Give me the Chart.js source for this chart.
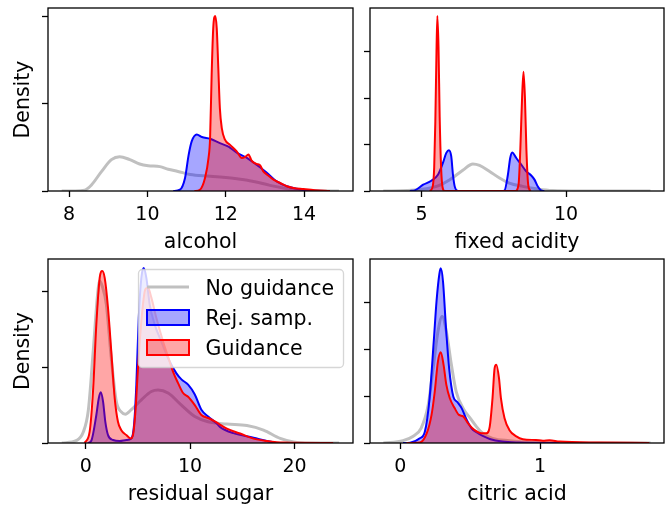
<!DOCTYPE html>
<html>
<head>
<meta charset="utf-8">
<script src="https://cdn.jsdelivr.net/npm/chart.js@4"></script>
<style>
  html, body { margin: 0; padding: 0; background: #fff; }
  #wrap { position: relative; width: 665px; height: 508px; }
  canvas { position: absolute; left: 0; top: 0; }
</style>
</head>
<body>
<div id="wrap">
  <canvas id="alcohol" width="665" height="508"></canvas>
  <canvas id="fixed" width="665" height="508"></canvas>
  <canvas id="sugar" width="665" height="508"></canvas>
  <canvas id="citric" width="665" height="508"></canvas>
</div>
<script>
// series labels
const seriesLabels = ["No guidance", "Rej. samp.", "Guidance"];

// alcohol: [value, density]
const alcoholNoGuidance = [[7.81,0],[8.15,0],[8.40,0.01],[8.57,0.07],[8.82,0.22],[9.08,0.36],[9.29,0.395],[9.55,0.36],[9.80,0.31],[10.02,0.29],[10.32,0.28],[10.53,0.25],[10.78,0.225],[11.09,0.19],[11.60,0.17],[12.28,0.14],[12.71,0.11],[13.13,0.065],[13.47,0.035],[13.81,0.01],[14.3,0.002],[14.89,0]];
const alcoholRejSamp = [[10.66,0],[10.83,0.015],[10.96,0.15],[11.05,0.41],[11.13,0.57],[11.26,0.65],[11.39,0.62],[11.60,0.60],[11.85,0.55],[12.07,0.51],[12.28,0.44],[12.54,0.38],[12.79,0.30],[13.05,0.21],[13.30,0.11],[13.56,0.055],[13.81,0.025],[14.15,0.005],[14.66,0]];
const alcoholGuidance = [[11.20,0],[11.34,0.015],[11.47,0.15],[11.56,0.38],[11.60,0.61],[11.64,1.34],[11.68,1.87],[11.73,2.01],[11.77,1.87],[11.81,1.41],[11.85,0.95],[11.90,0.72],[11.98,0.59],[12.11,0.53],[12.28,0.455],[12.41,0.38],[12.49,0.39],[12.58,0.42],[12.66,0.35],[12.79,0.31],[12.88,0.295],[12.96,0.225],[13.05,0.19],[13.22,0.13],[13.39,0.092],[13.56,0.054],[13.73,0.035],[13.98,0.023],[14.28,0.01],[14.66,0]];

// fixed acidity
const fixedNoGuidance = [[3.68,0],[4.50,0.01],[4.94,0.03],[5.52,0.10],[5.98,0.244],[6.43,0.446],[6.78,0.58],[7.01,0.55],[7.36,0.42],[7.70,0.28],[8.04,0.17],[8.50,0.10],[8.97,0.05],[9.53,0.01],[10.5,0],[12.92,0]];
const fixedRejSamp = [[4.60,0],[4.77,0.015],[5.06,0.135],[5.34,0.22],[5.57,0.35],[5.74,0.60],[5.86,0.82],[5.95,0.88],[6.03,0.75],[6.09,0.35],[6.15,0.10],[6.23,0.01],[6.32,0],[7.77,0],[7.87,0.01],[7.99,0.35],[8.07,0.71],[8.14,0.83],[8.28,0.71],[8.45,0.57],[8.62,0.425],[8.79,0.34],[8.91,0.245],[9.02,0.10],[9.14,0.01],[9.25,0]];
const fixedGuidance = [[5.29,0],[5.39,0.1],[5.44,0.5],[5.48,1.5],[5.52,3.0],[5.55,3.77],[5.59,3.1],[5.63,1.6],[5.68,0.5],[5.73,0.08],[5.80,0],[8.25,0],[8.36,0.15],[8.42,0.9],[8.48,2.0],[8.53,2.57],[8.58,2.0],[8.63,0.9],[8.69,0.15],[8.77,0]];

// residual sugar
const sugarNoGuidance = [[-2.28,0],[-0.86,0.035],[-0.23,0.145],[0.25,0.43],[0.73,1.23],[1.15,1.98],[1.34,2.14],[1.56,2.08],[1.98,1.83],[2.45,1.12],[2.93,0.55],[3.41,0.41],[3.80,0.38],[4.37,0.44],[5.33,0.57],[6.29,0.68],[6.93,0.70],[7.89,0.66],[9.17,0.50],[10.45,0.35],[11.72,0.28],[13.52,0.25],[15.44,0.23],[17.03,0.17],[18.63,0.06],[19.91,0.014],[21.5,0],[24.27,0]];
const sugarRejSamp = [[0.22,0],[0.54,0.03],[1.02,0.37],[1.25,0.59],[1.44,0.67],[1.66,0.55],[1.88,0.28],[2.14,0.105],[2.62,0.04],[3.26,0.027],[3.89,0.04],[4.37,0.06],[4.63,0.24],[4.85,0.77],[5.08,1.65],[5.33,2.18],[5.56,2.31],[5.81,2.18],[6.14,1.82],[6.62,1.56],[7.25,1.34],[7.89,1.12],[8.69,0.92],[9.17,0.84],[9.81,0.77],[10.45,0.64],[11.08,0.44],[11.73,0.35],[12.52,0.26],[12.88,0.21],[14.15,0.13],[16.07,0.07],[17.35,0.027],[18.3,0]];
const sugarGuidance = [[-0.10,0],[0.38,0.15],[0.70,0.68],[1.02,1.57],[1.34,2.18],[1.59,2.27],[1.82,2.18],[2.14,1.78],[2.45,1.21],[2.78,0.59],[3.09,0.28],[3.41,0.17],[3.89,0.105],[4.31,0.06],[4.53,0.105],[4.76,0.41],[5.01,0.99],[5.33,1.61],[5.71,2.03],[5.97,2.05],[6.29,1.92],[6.77,1.65],[7.41,1.34],[7.89,1.14],[8.37,0.94],[8.85,0.79],[9.33,0.66],[9.81,0.61],[10.45,0.50],[11.08,0.37],[11.73,0.33],[12.37,0.285],[13.52,0.19],[14.79,0.125],[16.07,0.058],[17.35,0.027],[18.95,0.005],[23.7,0]];

// citric acid
const citricNoGuidance = [[-0.12,0],[0.02,0.05],[0.09,0.14],[0.15,0.32],[0.20,0.81],[0.235,1.59],[0.27,2.38],[0.30,2.70],[0.33,2.38],[0.366,1.67],[0.40,1.10],[0.45,0.74],[0.50,0.53],[0.545,0.35],[0.59,0.21],[0.66,0.10],[0.78,0.05],[0.97,0.01],[1.42,0],[1.79,0]];
const citricRejSamp = [[0.02,0],[0.07,0.005],[0.14,0.10],[0.176,0.24],[0.21,0.96],[0.24,2.18],[0.26,3.04],[0.28,3.61],[0.29,3.73],[0.306,3.45],[0.326,2.52],[0.35,1.59],[0.38,0.99],[0.41,0.87],[0.44,0.74],[0.47,0.53],[0.51,0.31],[0.545,0.23],[0.59,0.15],[0.64,0.085],[0.73,0.03],[0.85,0.01],[1.14,0]];
const citricGuidance = [[0.045,0],[0.14,0.01],[0.19,0.21],[0.224,0.60],[0.247,1.10],[0.27,1.75],[0.29,1.94],[0.31,1.67],[0.33,1.24],[0.354,0.96],[0.39,0.74],[0.42,0.60],[0.45,0.57],[0.485,0.42],[0.53,0.28],[0.58,0.21],[0.616,0.21],[0.64,0.35],[0.66,0.96],[0.675,1.60],[0.687,1.67],[0.706,1.39],[0.72,0.96],[0.746,0.53],[0.78,0.28],[0.83,0.14],[0.877,0.08],[0.97,0.064],[1.02,0.05],[1.067,0.06],[1.14,0.03],[1.42,0.01],[1.78,0]];

// tick values
const alcoholTicks = [8, 10, 12, 14];
const fixedTicks = [5, 10];
const sugarTicks = [0, 10, 20];
const citricTicks = [0, 1];
const alcoholDensityTicks = [0, 1, 2];
const fixedDensityTicks = [0, 1, 2, 3];
const sugarDensityTicks = [0, 1, 2];
const citricDensityTicks = [0, 1, 2, 3];

Chart.defaults.font.family = "'DejaVu Sans', sans-serif";
Chart.defaults.color = "#000";

const seriesStyle = [
  { borderColor: "#c0c0c0", borderWidth: 3, fill: false, order: 3 },
  { borderColor: "#0000ff", backgroundColor: "rgba(0,0,255,0.35)", borderWidth: 2, fill: "origin", order: 2 },
  { borderColor: "#ff0000", backgroundColor: "rgba(255,0,0,0.35)", borderWidth: 2, fill: "origin", order: 1 },
];

// axes frame drawn on all four sides
const spines = {
  id: "spines",
  afterDraw(chart) {
    const { ctx, chartArea: a } = chart;
    ctx.save();
    ctx.strokeStyle = "#000";
    ctx.lineWidth = 1.3;
    ctx.strokeRect(a.left, a.top, a.right - a.left, a.bottom - a.top);
    ctx.restore();
  },
};

// legend placed inside the plot (upper right)
const innerLegend = {
  id: "innerLegend",
  afterDatasetsDraw(chart) {
    const { ctx, chartArea: a } = chart;
    const w = 205, h = 98;
    const x = a.right - 9.5 - w, y = a.top + 10.5;
    ctx.save();
    ctx.beginPath();
    ctx.roundRect(x, y, w, h, 4);
    ctx.fillStyle = "rgba(255,255,255,0.8)";
    ctx.fill();
    ctx.strokeStyle = "rgba(204,204,204,0.8)";
    ctx.lineWidth = 1.3;
    ctx.stroke();
    ctx.font = "20.5px 'DejaVu Sans', sans-serif";
    ctx.textBaseline = "alphabetic";
    chart.data.datasets.forEach((ds, i) => {
      const base = y + 25.5 + i * 30;
      const hx = x + 8.5;
      if (ds.fill) {
        ctx.fillStyle = ds.backgroundColor;
        ctx.fillRect(hx, base - 15, 42, 15);
        ctx.strokeStyle = ds.borderColor;
        ctx.lineWidth = ds.borderWidth;
        ctx.strokeRect(hx, base - 15, 42, 15);
      } else {
        ctx.strokeStyle = ds.borderColor;
        ctx.lineWidth = ds.borderWidth;
        ctx.beginPath();
        ctx.moveTo(hx, base - 8);
        ctx.lineTo(hx + 42, base - 8);
        ctx.stroke();
      }
      ctx.fillStyle = "#000";
      ctx.fillText(ds.label, x + 67, base);
    });
    ctx.restore();
  },
};

function makePanel(id, p) {
  const xH = 64;
  const datasets = p.series.map((s, i) => Object.assign({
    label: seriesLabels[i],
    data: s.map(([x, y]) => ({ x, y })),
    pointRadius: 0,
    cubicInterpolationMode: "monotone",
  }, seriesStyle[i]));

  new Chart(document.getElementById(id), {
    type: "line",
    data: { datasets },
    options: {
      responsive: false,
      animation: false,
      events: [],
      layout: {
        padding: { left: p.area.l - p.yW, top: p.area.t, right: 665 - p.area.r, bottom: 508 - p.area.b - xH },
      },
      plugins: { legend: { display: false }, tooltip: { enabled: false } },
      scales: {
        x: {
          type: "linear",
          min: p.xMin,
          max: p.xMax,
          afterBuildTicks: (s) => { s.ticks = p.xTicks.map((v) => ({ value: v })); },
          afterFit: (s) => { s.height = xH; },
          ticks: { font: { size: 19, lineHeight: 1.2 }, color: "#000", padding: 6.5, maxRotation: 0, autoSkip: false },
          grid: { drawOnChartArea: false, drawTicks: true, tickLength: 6, tickColor: "#000", tickWidth: 1.3 },
          border: { display: false },
          title: { display: true, text: p.xLabel, color: "#000", font: { size: 20.5, lineHeight: 1 }, padding: { top: 0, bottom: 2 } },
        },
        y: {
          type: "linear",
          min: 0,
          max: p.yMax,
          afterBuildTicks: (s) => { s.ticks = p.yTicks.map((v) => ({ value: v })); },
          afterFit: (s) => { s.width = p.yW; },
          ticks: { display: false },
          grid: { drawOnChartArea: false, drawTicks: true, tickLength: 6, tickColor: "#000", tickWidth: 1.3 },
          border: { display: false },
          title: { display: !!p.yLabel, text: p.yLabel, color: "#000", font: { size: 20.5, lineHeight: 1 }, padding: { top: 13, bottom: 0 } },
        },
      },
    },
    plugins: p.legend ? [innerLegend, spines] : [spines],
  });
}

makePanel("alcohol", {
  area: { l: 48, t: 8, r: 353, b: 191 }, yW: 48,
  xMin: 7.46, xMax: 15.25, yMax: 2.103,
  xTicks: alcoholTicks, yTicks: alcoholDensityTicks,
  xLabel: "alcohol", yLabel: "Density",
  series: [alcoholNoGuidance, alcoholRejSamp, alcoholGuidance],
});
makePanel("fixed", {
  area: { l: 370, t: 8, r: 664, b: 191 }, yW: 30,
  xMin: 3.22, xMax: 13.39, yMax: 3.94,
  xTicks: fixedTicks, yTicks: fixedDensityTicks,
  xLabel: "fixed acidity", yLabel: "",
  series: [fixedNoGuidance, fixedRejSamp, fixedGuidance],
});
makePanel("sugar", {
  area: { l: 48, t: 259, r: 353, b: 443 }, yW: 48,
  xMin: -3.61, xMax: 25.6, yMax: 2.43,
  xTicks: sugarTicks, yTicks: sugarDensityTicks,
  xLabel: "residual sugar", yLabel: "Density",
  series: [sugarNoGuidance, sugarRejSamp, sugarGuidance],
  legend: true,
});
makePanel("citric", {
  area: { l: 370, t: 259, r: 664, b: 443 }, yW: 30,
  xMin: -0.216, xMax: 1.886, yMax: 3.93,
  xTicks: citricTicks, yTicks: citricDensityTicks,
  xLabel: "citric acid", yLabel: "",
  series: [citricNoGuidance, citricRejSamp, citricGuidance],
});
</script>
</body>
</html>
